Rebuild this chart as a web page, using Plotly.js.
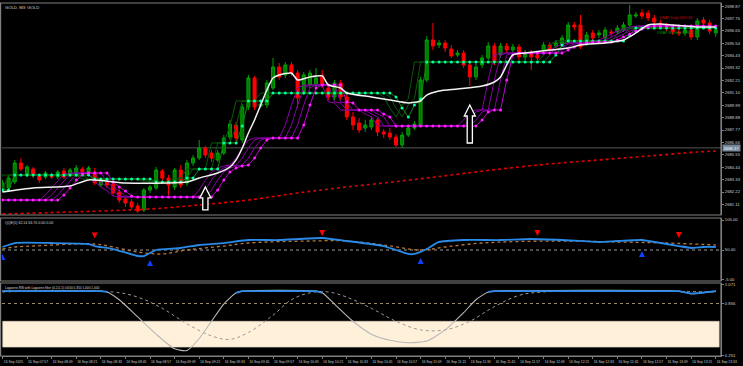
<!DOCTYPE html>
<html><head><meta charset="utf-8">
<script src="https://cdn.plot.ly/plotly-3.0.1.min.js"></script>
<style>html,body{margin:0;padding:0;background:#000;overflow:hidden}#chart{width:743px;height:366px}</style>
</head><body><div id="chart"></div>
<script>
// ---------------- DATA ----------------
const chartTitle = "GOLD, M3: GOLD";
const tickLabels = ["16 Sep 2025","16 Sep 07:57","16 Sep 08:09","16 Sep 08:21","16 Sep 08:33","16 Sep 08:45","16 Sep 08:57","16 Sep 09:09","16 Sep 09:21","16 Sep 09:33","16 Sep 09:45","16 Sep 09:57","16 Sep 10:09","16 Sep 10:21","16 Sep 10:33","16 Sep 10:45","16 Sep 10:57","16 Sep 11:09","16 Sep 11:21","16 Sep 11:33","16 Sep 11:45","16 Sep 11:57","16 Sep 12:09","16 Sep 12:21","16 Sep 12:33","16 Sep 12:45","16 Sep 12:57","16 Sep 13:09","16 Sep 13:21","16 Sep 13:33"];
const barsPerLabel = 4;

const open = [
2682.40,2682.58,2683.12,2684.82,2683.74,2684.28,2683.65,2683.56,2683.74,2683.56,
2684.10,2683.74,2683.74,2684.28,2683.83,2684.01,2682.85,2683.12,2682.94,2682.22,
2681.59,2681.33,2680.97,2680.61,2682.40,2682.58,2684.10,2683.47,2682.67,2684.19,
2683.03,2684.82,2685.26,2686.16,2685.71,2685.09,2685.71,2687.14,2688.22,2686.88,
2689.83,2692.43,2689.92,2690.01,2691.53,2693.41,2692.70,2693.59,2692.87,2691.17,
2691.80,2691.80,2692.70,2691.53,2690.73,2691.98,2690.73,2688.94,2688.40,2687.95,
2688.04,2688.67,2687.59,2687.50,2687.14,2686.43,2687.32,2687.95,2688.22,2692.25,
2695.83,2695.38,2695.56,2695.02,2694.49,2694.66,2693.59,2692.52,2693.59,2694.22,
2695.29,2694.49,2695.29,2694.93,2695.20,2694.31,2694.66,2694.49,2694.93,2695.38,
2695.29,2695.38,2695.83,2697.17,2697.17,2695.56,2696.46,2696.28,2696.01,2696.55,
2696.55,2696.72,2697.17,2697.98,2698.25,2698.25,2697.80,2697.35,2697.08,2696.90,
2696.55,2696.46,2696.72,2696.10,2697.62,2697.35,2696.46];
const high = [
2683.30,2683.74,2685.09,2685.26,2684.64,2684.46,2683.83,2684.10,2683.92,2684.19,
2684.37,2684.37,2684.64,2684.46,2684.55,2684.37,2683.47,2683.38,2683.21,2682.49,
2681.77,2681.59,2681.24,2682.58,2682.85,2684.46,2684.28,2683.74,2684.37,2684.64,
2685.09,2685.53,2686.88,2686.34,2685.98,2685.98,2687.32,2688.67,2688.49,2690.10,
2692.70,2692.61,2690.28,2692.25,2694.22,2693.77,2693.86,2693.86,2693.14,2692.96,
2693.14,2693.32,2693.14,2691.80,2692.25,2692.25,2690.99,2689.38,2688.85,2688.67,
2689.02,2688.85,2687.86,2687.95,2687.41,2687.59,2688.22,2688.58,2692.52,2696.19,
2697.35,2695.83,2695.83,2695.38,2694.93,2694.93,2693.86,2693.68,2694.49,2695.65,
2695.56,2695.56,2695.56,2695.47,2695.47,2694.93,2694.93,2694.75,2695.65,2695.65,
2695.83,2696.28,2697.44,2697.44,2698.07,2696.55,2696.72,2696.72,2696.99,2696.81,
2697.17,2697.44,2698.96,2698.34,2698.60,2698.51,2698.07,2697.62,2697.35,2697.17,
2696.81,2696.99,2696.99,2697.80,2697.89,2697.62,2696.99];
const low = [
2682.22,2682.31,2682.94,2684.10,2683.56,2683.47,2683.03,2683.38,2683.38,2683.38,
2683.38,2683.56,2683.56,2683.83,2683.65,2682.85,2682.67,2682.58,2681.86,2681.24,
2680.88,2680.70,2680.34,2680.43,2682.13,2682.40,2683.21,2681.95,2682.40,2682.58,
2682.76,2684.55,2685.09,2685.26,2684.91,2684.91,2685.53,2686.88,2686.79,2686.61,
2689.56,2689.56,2689.74,2689.74,2691.35,2692.25,2692.43,2692.61,2689.74,2690.90,
2691.53,2691.62,2691.53,2690.46,2690.46,2690.46,2688.67,2687.77,2687.50,2687.59,
2687.77,2687.23,2687.05,2686.88,2686.25,2686.16,2687.14,2687.77,2688.04,2692.07,
2694.93,2695.11,2694.75,2694.22,2694.31,2693.32,2691.71,2692.25,2693.32,2694.04,
2693.59,2694.22,2694.66,2694.75,2694.04,2694.04,2693.14,2694.04,2694.66,2694.75,
2695.11,2695.20,2695.65,2696.72,2695.02,2695.29,2695.74,2696.01,2695.74,2696.19,
2696.37,2696.55,2696.99,2697.80,2697.71,2697.53,2697.17,2696.81,2696.63,2696.28,
2696.19,2696.19,2695.83,2695.83,2697.08,2696.37,2696.10];
const close = [
2683.03,2683.47,2684.82,2684.28,2684.46,2683.74,2683.30,2683.92,2683.56,2684.01,
2683.56,2684.19,2684.37,2684.01,2684.37,2683.03,2683.30,2682.85,2682.13,2681.50,
2681.24,2680.88,2680.52,2682.40,2682.67,2684.19,2683.47,2682.85,2684.19,2682.85,
2684.82,2685.26,2686.16,2685.53,2685.26,2685.71,2687.05,2688.31,2687.05,2689.83,
2692.43,2689.83,2690.10,2691.98,2693.41,2692.52,2693.59,2692.87,2690.64,2692.70,
2692.87,2692.43,2691.80,2690.73,2691.98,2690.73,2688.94,2688.22,2687.77,2688.22,
2688.67,2687.59,2687.41,2687.14,2686.43,2687.32,2687.95,2688.31,2692.25,2695.83,
2695.29,2695.56,2695.11,2694.40,2694.66,2693.59,2692.52,2693.41,2694.22,2695.29,
2693.86,2695.29,2694.93,2695.20,2694.31,2694.66,2694.31,2694.22,2695.38,2694.93,
2695.56,2696.01,2697.17,2696.99,2695.20,2696.28,2696.01,2696.46,2696.72,2696.46,
2696.90,2697.17,2698.07,2698.07,2697.98,2697.80,2697.44,2697.08,2696.90,2696.55,
2696.46,2696.72,2696.10,2697.53,2697.35,2696.63,2696.72];

// trailing stop line (magenta dots) per bar
const trailMagenta = [
2681.50,2681.50,2681.50,2681.50,2681.50,2681.50,2681.50,2681.50,2681.50,2681.50,
2681.95,2682.58,2683.30,2683.83,2683.92,2683.92,2683.92,2683.92,2683.12,2682.67,
2682.31,2681.86,2681.77,2681.77,2681.77,2681.77,2681.77,2681.77,2681.77,2681.77,
2681.77,2681.77,2681.77,2681.77,2681.77,2682.40,2683.30,2684.01,2684.37,2684.55,
2684.64,2685.26,2686.16,2686.88,2687.05,2687.05,2687.05,2687.05,2687.05,2688.22,
2690.01,2691.53,2691.80,2691.80,2691.80,2691.80,2690.28,2690.19,2689.56,2689.56,
2689.56,2689.56,2689.20,2688.94,2688.13,2688.13,2688.13,2688.13,2688.13,2688.13,
2688.13,2688.13,2688.13,2688.13,2688.13,2688.13,2688.13,2688.13,2688.67,2689.38,
2689.56,2689.56,2692.25,2694.49,2694.66,2694.66,2694.66,2694.66,2694.66,2694.66,
2694.66,2694.66,2694.93,2695.20,2695.47,2695.56,2695.65,2695.65,2695.65,2695.65,
2695.83,2696.10,2696.37,2696.63,2696.81,2696.99,2697.08,2697.08,2697.08,2697.08,
2697.08,2697.08,2697.08,2697.08,2697.08,2697.08,2697.08];
// stepped green line with cyan dots per bar
const trailGreen = [
2682.40,2682.40,2683.74,2683.74,2683.74,2683.74,2683.74,2683.74,2683.74,2683.74,
2683.74,2683.74,2683.74,2683.74,2683.74,2683.38,2683.38,2683.38,2683.38,2683.38,
2683.38,2683.38,2683.38,2683.38,2683.38,2683.12,2683.12,2683.12,2683.12,2683.12,
2683.47,2683.47,2684.28,2684.28,2684.28,2684.28,2686.61,2686.61,2686.61,2688.13,
2690.37,2690.37,2690.37,2690.37,2691.08,2691.08,2691.08,2691.08,2691.08,2691.08,
2691.08,2691.08,2691.08,2691.08,2691.08,2691.08,2691.08,2691.08,2691.08,2691.08,
2691.08,2691.08,2691.08,2691.08,2690.73,2689.74,2688.94,2690.01,2690.55,2693.86,
2693.86,2693.86,2693.86,2693.86,2693.86,2693.86,2693.86,2693.86,2693.86,2693.86,
2693.86,2693.86,2693.86,2693.86,2693.86,2693.86,2693.86,2693.86,2693.86,2693.86,
2694.49,2695.38,2695.74,2695.74,2695.74,2695.74,2695.74,2695.74,2695.74,2695.74,
2695.74,2695.74,2696.28,2696.90,2696.90,2696.90,2696.90,2696.90,2696.90,2696.90,
2696.90,2696.90,2696.90,2696.90,2696.90,2696.90,2696.90];

const maWhiteBars = [0,5,11,14,20,27,30,32,35,37,38,39,40,41,42,43,44,45,47,48,50,52,53,55,56,60,63,66,68,69,71,74,78,80,81,82,83,85,89,92,94,98,101,103,105,107,109,111,113,116];
const maWhite = [2682.22,2682.58,2682.76,2683.30,2683.03,2683.03,2683.12,2683.47,2683.92,2684.46,2685.09,2686.16,2687.50,2688.67,2690.01,2691.35,2692.43,2692.70,2692.87,2692.25,2692.52,2692.61,2691.80,2691.53,2691.08,2690.73,2690.46,2690.19,2690.37,2690.90,2691.26,2691.44,2691.71,2692.07,2692.52,2693.59,2694.49,2694.66,2694.93,2695.11,2695.38,2695.56,2695.83,2696.46,2697.17,2697.26,2697.17,2697.08,2696.99,2696.99];
const maRedBars = [0,16,24,32,40,48,56,65,73,81,89,97,105,113,116];
const maRed = [2680.25,2680.52,2680.70,2681.06,2681.50,2682.13,2682.67,2683.21,2683.74,2684.28,2684.73,2685.09,2685.44,2685.80,2685.89];

const hLinePrice = 2686.17;
const buyArrowBars = [33, 76];
const buyArrowPrices = [2682.67, 2690.01];
const vwapDailyText = "VWAP Daily 2697.83";
const vwapMonthlyText = "VWAP Monthly 2696.41";

const priceTicks = [2698.87,2697.76,2696.65,2695.54,2694.43,2693.32,2692.21,2691.10,2689.99,2688.88,2687.77,2686.66,2685.55,2684.44,2683.33,2682.22,2681.11];

// QQE panel
const qqeLabel = "QQE(5) 62.14 63.70 0.00 0.00";
const qqeBars = [0,2,8,14,15,18,22,23,24,25,29,32,36,40,45,52,56,62,64,66,67,69,71,75,81,86,91,97,100,104,106,110,112,114,116];
const qqeFast = [55.5,62.8,62.8,61.0,57.3,51.8,39.0,39.0,44.5,50.0,53.7,59.2,62.8,68.3,68.3,72.0,66.5,57.3,50.0,42.7,42.7,51.8,64.7,68.3,68.3,70.2,68.3,64.7,66.5,68.3,64.7,57.3,53.7,55.5,55.5];
const qqeSlowBars = [0,2,5,15,18,22,26,30,36,40,50,56,62,68,72,78,90,100,108,116];
const qqeSlow = [51.8,55.5,57.3,61.0,55.5,46.3,42.7,50.0,57.3,62.8,66.5,66.5,59.2,50.0,55.5,62.8,66.5,64.7,62.8,59.2];
const qqeSellBars = [15,52,87,110];
const qqeSellVals = [71.0,75.7,75.7,72.0];
const qqeBuyBars = [0,24,68,104];
const qqeBuyVals = [42.7,31.7,35.3,48.0];
const qqeLevel = 50;
const qqeTicks = [105, 50, -5];

// Laguerre panel
const lagLabel = "Laguerre RSI with Laguerre filter (0.2,0,1) 0.650 0.350 1.000 1.000";
const lagBars = [0,16,17,19,22,25,28,30,32,34,36,38,39,51,52,54,57,60,63,66,69,72,75,77,79,80,110,112,113,115,116];
const lagVals = [1.0,1.0,0.99,0.90,0.70,0.50,0.33,0.31,0.45,0.65,0.85,0.98,1.0,1.0,0.98,0.85,0.65,0.50,0.43,0.40,0.42,0.55,0.75,0.90,0.99,1.0,1.0,0.97,0.975,0.99,1.0];
const filtBars = [0,18,22,26,30,34,37,40,44,47,50,53,56,60,64,68,72,76,80,84,88,116];
const filtVals = [0.99,0.99,0.93,0.80,0.62,0.48,0.44,0.52,0.72,0.90,0.98,0.99,0.93,0.80,0.65,0.55,0.55,0.65,0.82,0.95,0.99,0.99];
const lagUpper = 0.65, lagLower = 0.35, lagMark = 0.856;
const lagTicks = [1.071, 0.856, 0.251];

// ---------------- DRAW ----------------
const bars = close.map((_, i) => i);
const tickBars = tickLabels.map((_, i) => i * barsPerLabel);
const traces = [];

traces.push({type:'candlestick', x:bars, open:open, high:high, low:low, close:close, xaxis:'x', yaxis:'y',
  increasing:{line:{color:'#00a000', width:1}, fillcolor:'#007a00'},
  decreasing:{line:{color:'#ff0000', width:1}, fillcolor:'#ff0000'},
  whiskerwidth:0, hoverinfo:'skip'});

// ladder copies of stepped lines
[1,2,3].forEach(s => traces.push({type:'scatter', mode:'lines', x:bars.map(b=>b-s), y:trailMagenta, xaxis:'x', yaxis:'y',
  line:{color:'#8a00a8', width:1}, hoverinfo:'skip'}));
[1,2].forEach(s => traces.push({type:'scatter', mode:'lines', x:bars.map(b=>b-s), y:trailGreen, xaxis:'x', yaxis:'y',
  line:{color:'#0a5a0a', width:1}, hoverinfo:'skip'}));
traces.push({type:'scatter', mode:'lines+markers', x:bars, y:trailGreen, xaxis:'x', yaxis:'y',
  line:{color:'#0c8a0c', width:1}, marker:{color:'#00ffa8', size:3}, hoverinfo:'skip'});
traces.push({type:'scatter', mode:'lines+markers', x:bars, y:trailMagenta, xaxis:'x', yaxis:'y',
  line:{color:'#c000d0', width:1}, marker:{color:'#ff20ff', size:3}, hoverinfo:'skip'});
traces.push({type:'scatter', mode:'lines', x:maRedBars, y:maRed, xaxis:'x', yaxis:'y',
  line:{color:'#e00000', width:1.6, dash:'dot', shape:'spline'}, hoverinfo:'skip'});
traces.push({type:'scatter', mode:'lines', x:maWhiteBars, y:maWhite, xaxis:'x', yaxis:'y',
  line:{color:'#f2f2f2', width:1.5, shape:'spline', smoothing:0.6}, hoverinfo:'skip'});

// QQE
traces.push({type:'scatter', mode:'lines', x:qqeSlowBars, y:qqeSlow, xaxis:'x', yaxis:'y2',
  line:{color:'#b87838', width:1.3, dash:'dot', shape:'spline'}, hoverinfo:'skip'});
traces.push({type:'scatter', mode:'lines', x:qqeBars, y:qqeFast, xaxis:'x', yaxis:'y2',
  line:{color:'#2a8ae8', width:1.8, shape:'spline', smoothing:0.5}, hoverinfo:'skip'});
traces.push({type:'scatter', mode:'markers', x:qqeSellBars, y:qqeSellVals, xaxis:'x', yaxis:'y2',
  marker:{symbol:'arrow-down', color:'#ff0000', size:6, line:{width:0}}, hoverinfo:'skip'});
traces.push({type:'scatter', mode:'markers', x:qqeBuyBars, y:qqeBuyVals, xaxis:'x', yaxis:'y2',
  marker:{symbol:'arrow-up', color:'#1040ff', size:6, line:{width:0}}, hoverinfo:'skip'});

// Laguerre
traces.push({type:'scatter', mode:'lines', x:filtBars, y:filtVals, xaxis:'x', yaxis:'y3',
  line:{color:'#9a9a9a', width:1, dash:'dot', shape:'spline'}, hoverinfo:'skip'});
traces.push({type:'scatter', mode:'lines', x:lagBars, y:lagVals, xaxis:'x', yaxis:'y3',
  line:{color:'#b8b8b8', width:1.1, shape:'spline', smoothing:0.6}, hoverinfo:'skip'});
traces.push({type:'scatter', mode:'lines', x:lagBars, y:lagVals.map(v => v >= 0.97 ? v : null), xaxis:'x', yaxis:'y3',
  line:{color:'#2a8ae8', width:1.8}, connectgaps:false, hoverinfo:'skip'});

const gray = '#808080';
const fmt2 = v => v.toFixed(2);
const axisCommon = {side:'right', showgrid:false, zeroline:false, ticks:'outside', ticklen:2, tickcolor:gray,
  showline:true, linecolor:gray, linewidth:1, tickfont:{size:4.2, color:'#cfcfcf'}, anchor:'x', fixedrange:true};

const shapes = [];
// panel frames
[[0.3994,1],[0.2125,0.3909],[0,0.2068]].forEach(d => shapes.push({type:'rect', xref:'paper', yref:'paper',
  x0:-0.002, x1:1, y0:d[0], y1:d[1], line:{color:gray, width:1.2}, fillcolor:'rgba(0,0,0,0)'}));
shapes.push({type:'line', xref:'paper', yref:'y', x0:0, x1:1, y0:hLinePrice, y1:hLinePrice, line:{color:'#555', width:1}, layer:'below'});
shapes.push({type:'line', xref:'paper', yref:'y2', x0:0, x1:1, y0:qqeLevel, y1:qqeLevel, line:{color:'#9a9a9a', width:1, dash:'dot'}, layer:'below'});
shapes.push({type:'rect', xref:'paper', yref:'y3', x0:0.001, x1:0.9975, y0:lagLower, y1:lagUpper, fillcolor:'#fff1d9', line:{color:'#d8cfc0', width:0.6}, layer:'below'});
shapes.push({type:'line', xref:'paper', yref:'y3', x0:0, x1:1, y0:lagMark, y1:lagMark, line:{color:'#a08a6a', width:1, dash:'dot'}, layer:'below'});
buyArrowBars.forEach((b, i) => {
  const len = [23, 38][i];
  shapes.push({type:'path', xref:'x', yref:'y', xsizemode:'pixel', ysizemode:'pixel', xanchor:b, yanchor:buyArrowPrices[i],
    path:`M0,0 L5.5,-11 L2.6,-11 L2.6,-${len} L-2.6,-${len} L-2.6,-11 L-5.5,-11 Z`,
    line:{color:'#ffffff', width:1.3}, fillcolor:'#000000'});
});

const annotations = [
  {xref:'paper', yref:'paper', x:0.002, y:1, xanchor:'left', yanchor:'top', text:chartTitle, showarrow:false, font:{size:4.2, color:'#d8d8d8'}},
  {xref:'paper', yref:'paper', x:0.002, y:0.389, xanchor:'left', yanchor:'top', text:qqeLabel, showarrow:false, font:{size:3.6, color:'#d8d8d8'}},
  {xref:'paper', yref:'paper', x:0.002, y:0.205, xanchor:'left', yanchor:'top', text:lagLabel, showarrow:false, font:{size:3.2, color:'#d8d8d8'}},
  {xref:'paper', yref:'paper', x:0.937, y:0.958, xanchor:'center', yanchor:'middle', text:vwapDailyText, showarrow:false, font:{size:3.6, color:'#c01010'}},
  {xref:'paper', yref:'paper', x:0.937, y:0.915, xanchor:'center', yanchor:'middle', text:vwapMonthlyText, showarrow:false, font:{size:3.6, color:'#0a8a0a'}},
  {xref:'paper', yref:'y', x:1, y:hLinePrice, xanchor:'left', yanchor:'middle', xshift:1, text:fmt2(hLinePrice), showarrow:false,
    bgcolor:'#778899', borderpad:0.5, font:{size:4.2, color:'#ffffff'}}
];

const layout = {
  width:743, height:366, margin:{l:2, r:22, t:3, b:10, pad:0},
  paper_bgcolor:'#000', plot_bgcolor:'#000', showlegend:false,
  font:{family:'"Liberation Sans", Arial, sans-serif', size:4.2, color:'#cfcfcf'},
  xaxis:{range:[-0.07,116.85], anchor:'y3', tickvals:tickBars, ticktext:tickLabels, showgrid:false, zeroline:false,
    ticks:'outside', ticklen:2, tickcolor:gray, showline:true, linecolor:gray, tickfont:{size:3.4, color:'#cfcfcf'},
    ticklabelshift:11, ticklabelstandoff:0, rangeslider:{visible:false}, fixedrange:true},
  yaxis:Object.assign({}, axisCommon, {domain:[0.3994,1], range:[2680.16,2699.14], tickvals:priceTicks, ticktext:priceTicks.map(fmt2)}),
  yaxis2:Object.assign({}, axisCommon, {domain:[0.2125,0.3909], range:[-6.83,108.67], tickvals:qqeTicks, ticktext:qqeTicks.map(fmt2)}),
  yaxis3:Object.assign({}, axisCommon, {domain:[0,0.2068], range:[0.247,1.094], tickvals:lagTicks, ticktext:lagTicks.map(v=>v.toFixed(3))}),
  shapes:shapes, annotations:annotations
};

Plotly.newPlot('chart', traces, layout, {staticPlot:true, displayModeBar:false});
</script>
</body></html>
